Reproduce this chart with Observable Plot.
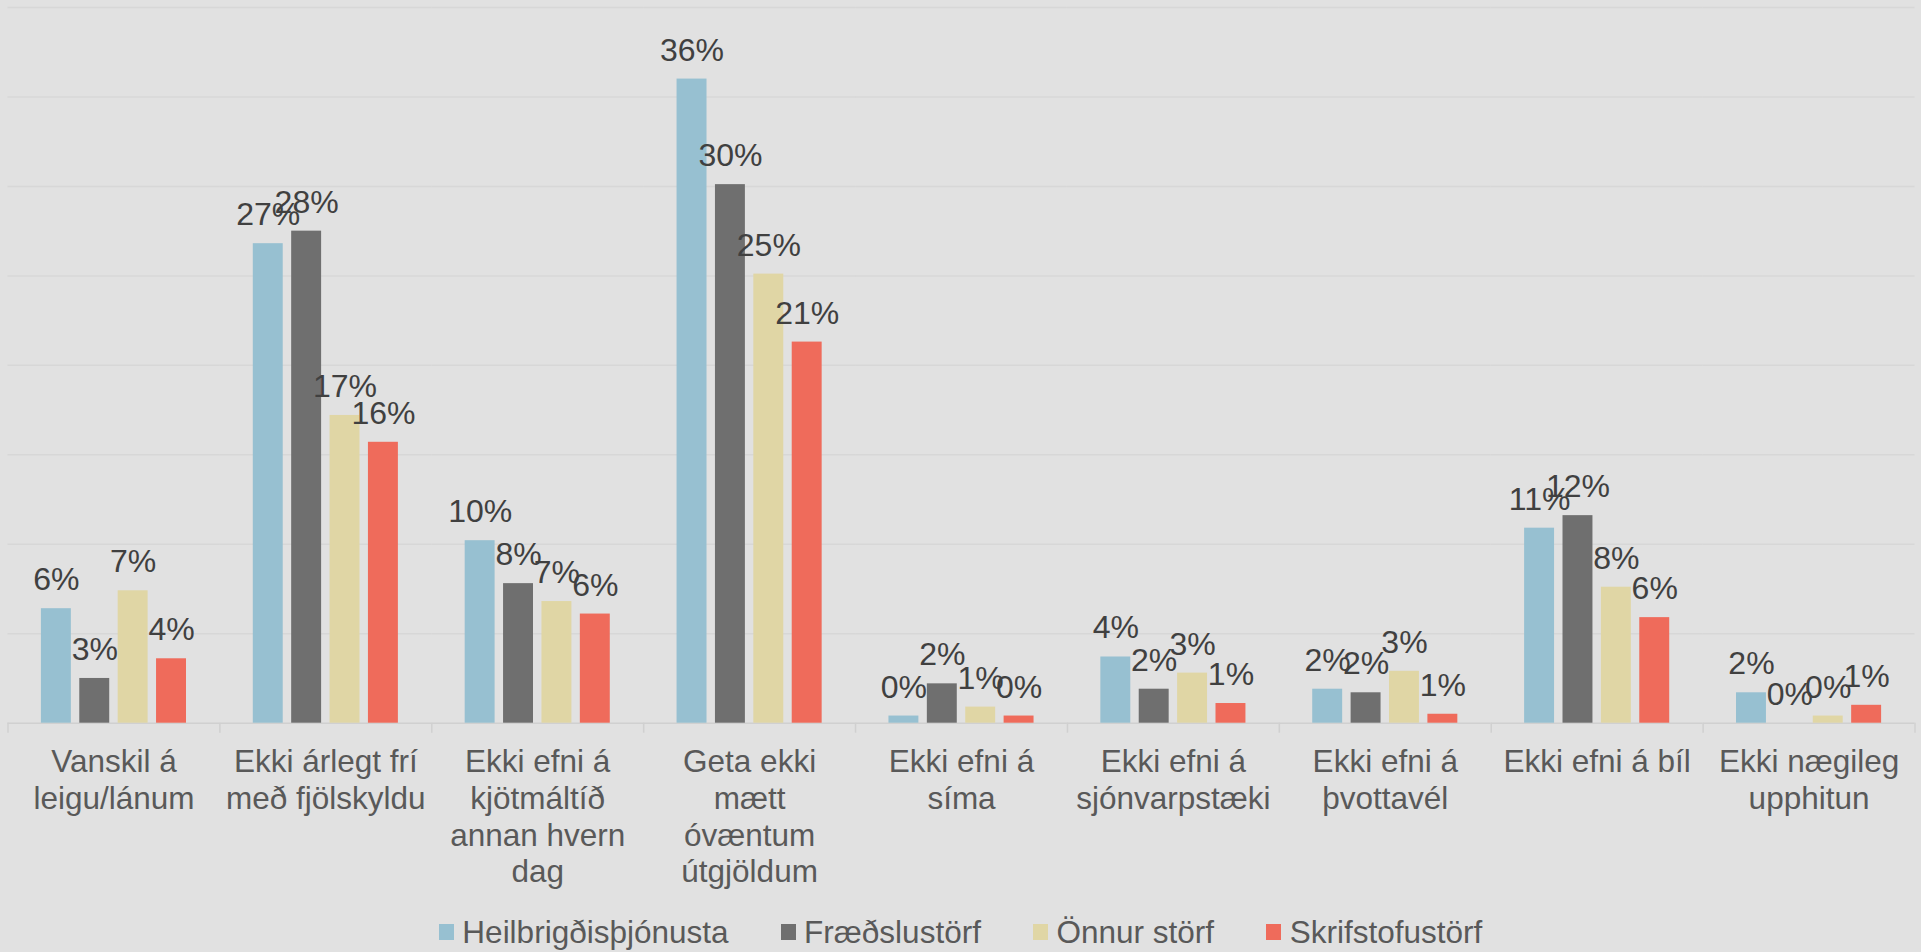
<!DOCTYPE html>
<html>
<head>
<meta charset="utf-8">
<script src="https://cdn.jsdelivr.net/npm/d3@7"></script>
<script src="https://cdn.jsdelivr.net/npm/@observablehq/plot@0.6"></script>
<style>
  html, body { margin: 0; padding: 0; background: #e1e1e1; overflow: hidden; }
  body { font-family: "Liberation Sans", Arial, sans-serif; }
  #legend { display: flex; justify-content: center; align-items: center; gap: 52px;
            height: 40px; margin-top: 12px; font-size: 31.5px; color: #595959; }
  .item { display: flex; align-items: center; }
  .sw { width: 15px; height: 16px; margin-right: 8.6px; }
</style>
</head>
<body>
<div id="chart"></div>
<div id="legend"></div>
<script>
const categories = [
  "Vanskil á leigu/lánum",
  "Ekki árlegt frí með fjölskyldu",
  "Ekki efni á kjötmáltíð annan hvern dag",
  "Geta ekki mætt óvæntum útgjöldum",
  "Ekki efni á síma",
  "Ekki efni á sjónvarpstæki",
  "Ekki efni á þvottavél",
  "Ekki efni á bíl",
  "Ekki nægileg upphitun"
];
const tickLabels = [
  "Vanskil á\nleigu/lánum",
  "Ekki árlegt frí\nmeð fjölskyldu",
  "Ekki efni á\nkjötmáltíð\nannan hvern\ndag",
  "Geta ekki\nmætt\nóvæntum\nútgjöldum",
  "Ekki efni á\nsíma",
  "Ekki efni á\nsjónvarpstæki",
  "Ekki efni á\nþvottavél",
  "Ekki efni á bíl",
  "Ekki nægileg\nupphitun"
];
const series = ["Heilbrigðisþjónusta", "Fræðslustörf", "Önnur störf", "Skrifstofustörf"];
const colors = ["#97c0d1", "#6f6f6f", "#e0d6a5", "#ef6b5b"];

const heilbrigdis = [6.4, 26.8, 10.2, 36.0, 0.4, 3.7, 1.9, 10.9, 1.7];
const fraedslu    = [2.5, 27.5, 7.8, 30.1, 2.2, 1.9, 1.7, 11.6, 0];
const onnur       = [7.4, 17.2, 6.8, 25.1, 0.9, 2.8, 2.9, 7.6, 0.4];
const skrifstofu  = [3.6, 15.7, 6.1, 21.3, 0.4, 1.1, 0.5, 5.9, 1.0];
const gridValues  = [5, 10, 15, 20, 25, 30, 35, 40];

const seriesValues = [heilbrigdis, fraedslu, onnur, skrifstofu];
const data = [];
categories.forEach((c, i) => {
  series.forEach((s, j) => data.push({category: c, series: s, value: seriesValues[j][i]}));
});

const W = 1921, ML = 7.5, MR = 6.5;
const half = (W - ML - MR) / categories.length / 2;
const labelOf = new Map(categories.map((c, i) => [c, tickLabels[i]]));

const chart = Plot.plot({
  width: W,
  height: 900,
  marginLeft: ML,
  marginRight: MR,
  marginTop: 7,
  marginBottom: 177.3,
  style: {background: "transparent", fontFamily: "'Liberation Sans', Arial, sans-serif"},
  fx: {domain: categories, padding: 0, round: false, axis: null, label: null},
  x: {domain: series, paddingInner: 0.22, paddingOuter: 0.87, round: false, axis: null},
  y: {domain: [0, 40], axis: null},
  color: {domain: series, range: colors},
  marks: [
    Plot.ruleY(gridValues, {stroke: "#d7d7d7", strokeWidth: 1.5}),
    Plot.ruleY([0], {stroke: "#d0d0d0", strokeWidth: 1.5}),
    Plot.axisFx({
      anchor: "bottom", tickSize: 0, tickPadding: 22.9, label: null,
      tickFormat: d => labelOf.get(d), fontSize: 31.5, lineHeight: 1.165,
      fill: "#595959", textAnchor: "middle"
    }),
    Plot.axisFx({anchor: "bottom", tickSize: 10, text: null, label: null, dx: -half, stroke: "#d0d0d0", strokeWidth: 1.5}),
    Plot.axisFx({anchor: "bottom", ticks: [categories[categories.length - 1]], tickSize: 10, text: null, label: null, dx: half, stroke: "#d0d0d0", strokeWidth: 1.5}),
    Plot.barY(data, {fx: "category", x: "series", y: "value", fill: "series", inset: 0}),
    Plot.text(data, {
      fx: "category", x: "series", y: "value",
      text: d => Math.round(d.value) + "%",
      lineAnchor: "bottom", dy: -18.5, fontSize: 32, fill: "#404040"
    })
  ]
});
document.getElementById("chart").appendChild(chart);

const legend = document.getElementById("legend");
series.forEach((s, i) => {
  const item = document.createElement("div");
  item.className = "item";
  const sw = document.createElement("span");
  sw.className = "sw";
  sw.style.background = colors[i];
  const t = document.createElement("span");
  t.textContent = s;
  item.appendChild(sw);
  item.appendChild(t);
  legend.appendChild(item);
});
</script>
</body>
</html>
